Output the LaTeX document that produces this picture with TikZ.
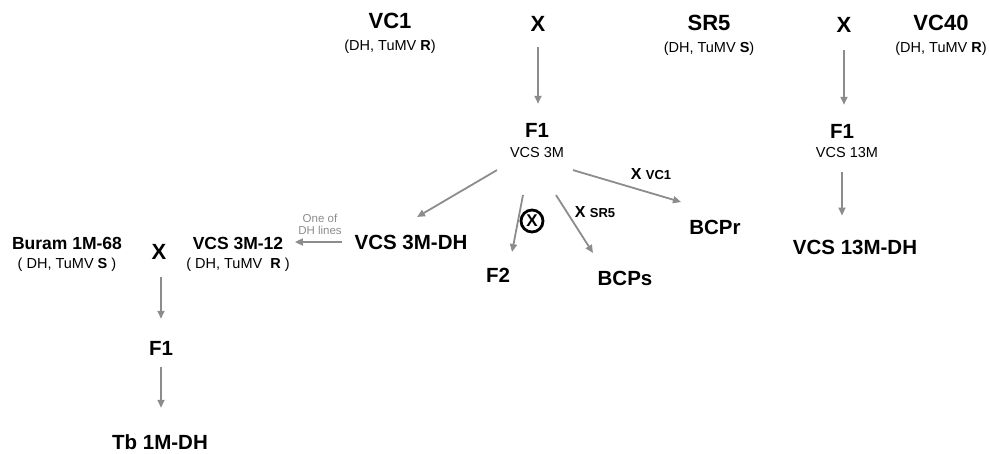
\documentclass[tikz,border=0pt]{standalone}
\usepackage{fontspec}
\setmainfont{Liberation Sans}
\usetikzlibrary{arrows.meta, positioning}
\definecolor{arrgray}{RGB}{140,140,140}

\begin{document}
\begin{tikzpicture}[x=1pt, y=-1pt, inner sep=0pt,
                      top/.style={font=\fontsize{22}{24}\selectfont\bfseries},
                      lbl/.style={font=\fontsize{20.5}{23}\selectfont\bfseries},
                      low/.style={font=\fontsize{17.5}{20}\selectfont\bfseries},
                      sub/.style={font=\fontsize{14.5}{16}\selectfont},
                      crossing/.style={font=\fontsize{22}{24}\selectfont\bfseries},
                      tag/.style={font=\fontsize{16}{18}\selectfont\bfseries},
                      note/.style={font=\fontsize{11.5}{12}\selectfont, text=arrgray, align=center},
                      arr/.style={-{Triangle[length=8pt,width=7pt]}, line width=1.8pt, draw=arrgray}]
    \useasboundingbox (0,0) rectangle (989,453);
    % parents
    \node[top] (vc1) at (390,21) {VC1};
    \node[sub] (vc1sub) [below=10.5pt of vc1] {(DH, TuMV \textbf{R})};
    \node[crossing] (xa) at (538,24) {X};
    \node[top] (sr5) at (709,23) {SR5};
    \node[sub] (sr5sub) [below=10.5pt of sr5] {(DH, TuMV \textbf{S})};
    \node[crossing] (xb) at (844,25) {X};
    \node[top] (vc40) at (941,23) {VC40};
    \node[sub] (vc40sub) [below=10.5pt of vc40] {(DH, TuMV \textbf{R})};
    % F1 plants
    \node[lbl] (fa) at (537,130) {F1};
    \node[sub] (fasub) [below=9.5pt of fa] {VCS 3M};
    \node[lbl] (fb) at (842,131) {F1};
    \node[sub] (fbsub) [below=8.5pt of fb, xshift=5pt] {VCS 13M};
    \node[lbl] (dh13) at (855,247) {VCS 13M-DH};
    % progeny of VCS 3M
    \node[lbl] (dh3m) at (411,242) {VCS 3M-DH};
    \node[lbl] (f2) at (498,275) {F2};
    \node[lbl] (bcps) at (625,278) {BCPs};
    \node[lbl] (bcpr) at (715,227) {BCPr};
    \node[crossing, circle, draw, line width=2.8pt, minimum size=22pt,
          font=\fontsize{17}{17}\selectfont\bfseries] (selfed) at (532,221) {X};
    \node[tag] (xvc1) at (651,174) {X {\fontsize{13}{15}\selectfont VC1}};
    \node[tag] (xsr5) at (595,212) {X {\fontsize{13}{15}\selectfont SR5}};
    % lower left cross
    \node[low] (m12) at (238,243) {VCS 3M-12};
    \node[sub] (m12sub) [below=8.3pt of m12] {( DH, TuMV~~\textbf{R} )};
    \node[crossing] (xc) at (159,252) {X};
    \node[low] (buram) at (67,243) {Buram 1M-68};
    \node[sub] (buramsub) [below=8.3pt of buram] {( DH, TuMV \textbf{S} )};
    \node[lbl] (fc) at (161,348) {F1};
    \node[lbl] (tb) at (160,442) {Tb 1M-DH};
    \node[note] (pick) at (320,224) {One of\\DH lines};

    \draw[arr, shorten <=15pt, shorten >=19pt] (xa.south) -- (xa.south |- fa.north);
    \draw[arr, shorten <=17pt, shorten >=19pt] (xb.south) -- (xb.south |- fb.north);
    \draw[arr, shorten <=15pt, shorten >=24pt] (fb.south |- fbsub.south) -- (fb.south |- dh13.north);
    \draw[arr] ([shift={(-40,18)}]fasub.center) -- ([shift={(6,-25)}]dh3m.center);
    \draw[arr] ([shift={(-14,43)}]fasub.center) -- ([shift={(14,-23)}]f2.center);
    \draw[arr] ([shift={(19,43)}]fasub.center) -- ([shift={(-32,-25)}]bcps.center);
    \draw[arr] ([shift={(36,18)}]fasub.center) -- ([shift={(-34,-25)}]bcpr.center);
    \draw[arr, shorten <=12pt, shorten >=11.5pt] (dh3m.west) -- (dh3m.west -| m12.east);
    \draw[arr, shorten <=17pt, shorten >=22pt] ([xshift=2pt]xc.south) -- ([xshift=2pt]xc.south |- fc.north);
    \draw[arr, shorten <=11.5pt, shorten >=26.5pt] (fc.south) -- (fc.south |- tb.north);
  \end{tikzpicture}
\end{document}
